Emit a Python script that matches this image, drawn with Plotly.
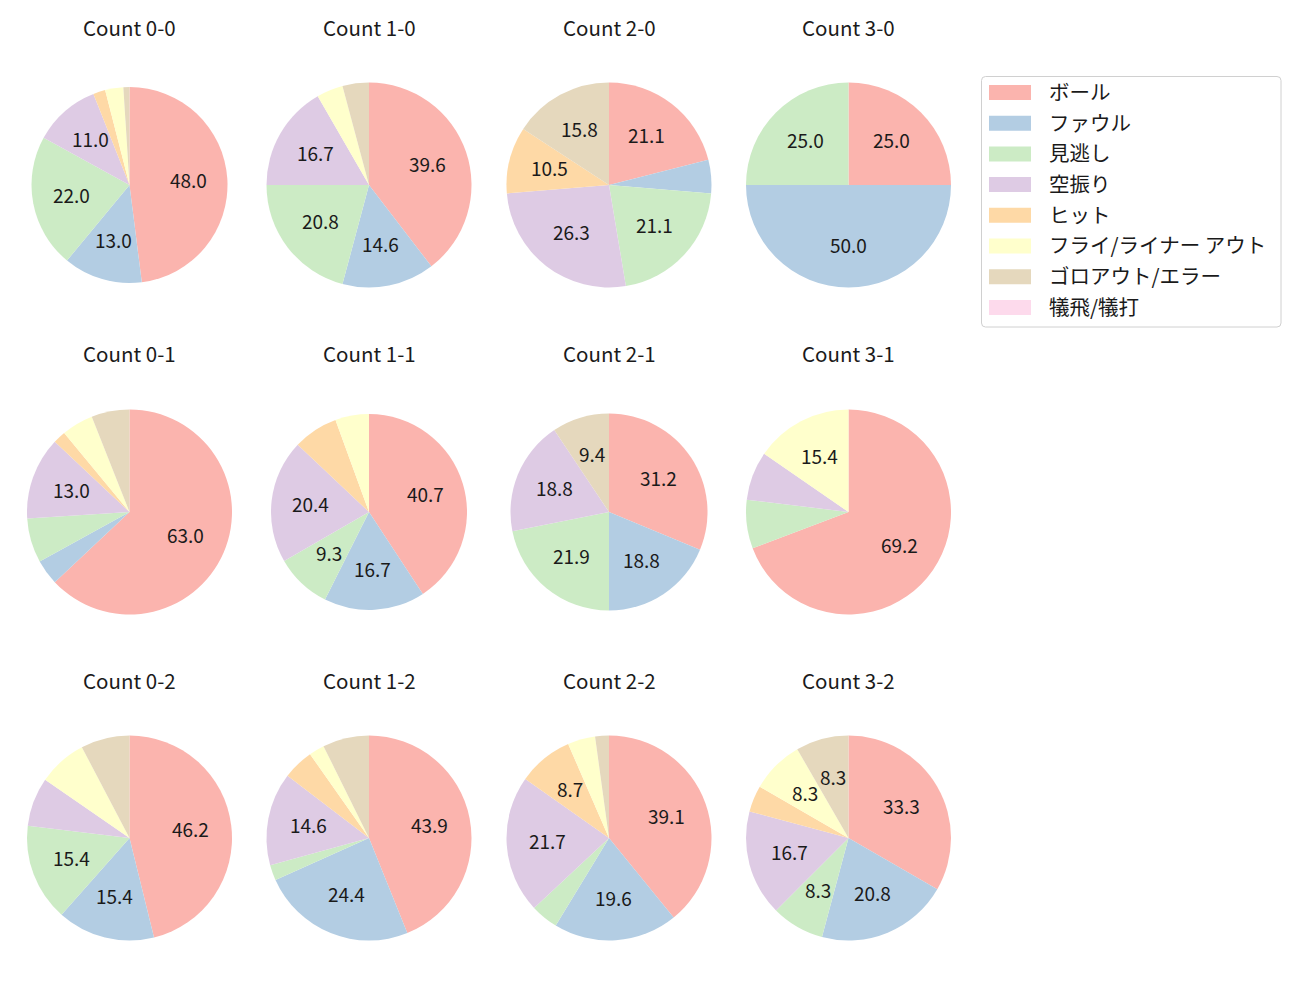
import math
import plotly.graph_objects as go

# ---- data ----
categories = ["ボール", "ファウル", "見逃し", "空振り", "ヒット",
              "フライ/ライナー アウト", "ゴロアウト/エラー", "犠飛/犠打"]
colors = ["#fbb4ae", "#b3cde3", "#ccebc5", "#decbe4",
          "#fed9a6", "#ffffcc", "#e5d8bd", "#fddaec"]

count_0_0 = [48, 13, 22, 11, 2, 3, 1, 0]
count_1_0 = [19, 7, 10, 8, 0, 2, 2, 0]
count_2_0 = [4, 1, 4, 5, 2, 0, 3, 0]
count_3_0 = [1, 2, 1, 0, 0, 0, 0, 0]
count_0_1 = [63, 4, 7, 13, 2, 5, 6, 0]
count_1_1 = [22, 9, 5, 11, 4, 3, 0, 0]
count_2_1 = [10, 6, 7, 6, 0, 0, 3, 0]
count_3_1 = [9, 0, 1, 1, 0, 2, 0, 0]
count_0_2 = [6, 2, 2, 1, 0, 1, 1, 0]
count_1_2 = [18, 10, 1, 6, 2, 1, 3, 0]
count_2_2 = [18, 9, 2, 10, 4, 2, 1, 0]
count_3_2 = [8, 5, 2, 4, 1, 2, 2, 0]

panels = [
    ("Count 0-0", count_0_0), ("Count 1-0", count_1_0), ("Count 2-0", count_2_0), ("Count 3-0", count_3_0),
    ("Count 0-1", count_0_1), ("Count 1-1", count_1_1), ("Count 2-1", count_2_1), ("Count 3-1", count_3_1),
    ("Count 0-2", count_0_2), ("Count 1-2", count_1_2), ("Count 2-2", count_2_2), ("Count 3-2", count_3_2),
]

# ---- layout constants (pixels) ----
W, H = 1300, 1000
COL_X = [129.5, 369.0, 609.0, 848.5]
ROW_Y = [185.0, 512.0, 838.0]
RADII = [98.0, 102.5, 102.5, 102.5,
         102.5, 98.0, 98.5, 102.5,
         102.5, 102.5, 102.5, 102.5]
TITLE_Y = [29.0, 355.5, 682.0]
FONT = "Noto Sans CJK JP"
MIN_PCT = 8.0
TEXT_DY = -2.0


def px(x):
    return x / W


def py(y):
    return 1 - y / H


fig = go.Figure()
annotations = []

for i, (title, vals) in enumerate(panels):
    r, c = divmod(i, 4)
    cx, cy = COL_X[c], ROW_Y[r]
    R = RADII[i]
    fig.add_trace(go.Pie(
        labels=categories, values=vals, sort=False, direction="clockwise",
        rotation=0, textinfo="none", showlegend=False,
        marker=dict(colors=colors, line=dict(width=0)),
        domain=dict(x=[px(cx - R), px(cx + R)], y=[py(cy + R), py(cy - R)]),
        name=title,
    ))
    total = sum(vals)
    cum = 0
    for v in vals:
        pct = 100.0 * v / total
        if v > 0 and pct >= MIN_PCT:
            ang = math.radians(360.0 * (cum + v / 2) / total)
            tx = cx + 0.6 * R * math.sin(ang)
            ty = cy - 0.6 * R * math.cos(ang) + TEXT_DY
            annotations.append(dict(
                x=px(tx), y=py(ty), xref="paper", yref="paper",
                text=f"{pct:.1f}", showarrow=False,
                xanchor="center", yanchor="middle",
                font=dict(family=FONT, size=19, color="#1a1a1a"),
            ))
        cum += v
    annotations.append(dict(
        x=px(cx), y=py(TITLE_Y[r] + TEXT_DY), xref="paper", yref="paper",
        text=title, showarrow=False, xanchor="center", yanchor="middle",
        font=dict(family=FONT, size=20.5, color="#1a1a1a"),
    ))

# ---- custom legend (matplotlib-like) ----
LX0, LX1, LY0, LY1 = 981.5, 1281.0, 76.5, 327.0
rad = 4.0
path = (
    f"M {px(LX0 + rad)} {py(LY0)} L {px(LX1 - rad)} {py(LY0)} "
    f"Q {px(LX1)} {py(LY0)} {px(LX1)} {py(LY0 + rad)} "
    f"L {px(LX1)} {py(LY1 - rad)} Q {px(LX1)} {py(LY1)} {px(LX1 - rad)} {py(LY1)} "
    f"L {px(LX0 + rad)} {py(LY1)} Q {px(LX0)} {py(LY1)} {px(LX0)} {py(LY1 - rad)} "
    f"L {px(LX0)} {py(LY0 + rad)} Q {px(LX0)} {py(LY0)} {px(LX0 + rad)} {py(LY0)} Z"
)
shapes = [dict(type="path", path=path, xref="paper", yref="paper",
               line=dict(color="#d0d0d0", width=1), fillcolor="rgba(255,255,255,0.8)")]
ROW0, DY = 92.5, 30.7
for k, (lab, col) in enumerate(zip(categories, colors)):
    yc = ROW0 + k * DY
    shapes.append(dict(type="rect", xref="paper", yref="paper",
                       x0=px(989), x1=px(1031), y0=py(yc + 7.5), y1=py(yc - 7.5),
                       fillcolor=col, line=dict(width=0)))
    annotations.append(dict(
        x=px(1047), y=py(yc - 1.5), xref="paper", yref="paper", text=lab,
        showarrow=False, xanchor="left", yanchor="middle",
        font=dict(family=FONT, size=20.5, color="#1a1a1a"),
    ))

fig.update_layout(
    width=W, height=H, margin=dict(l=0, r=0, t=0, b=0),
    paper_bgcolor="white", plot_bgcolor="white",
    annotations=annotations, shapes=shapes, showlegend=False,
)

fig.write_html("out.html")
